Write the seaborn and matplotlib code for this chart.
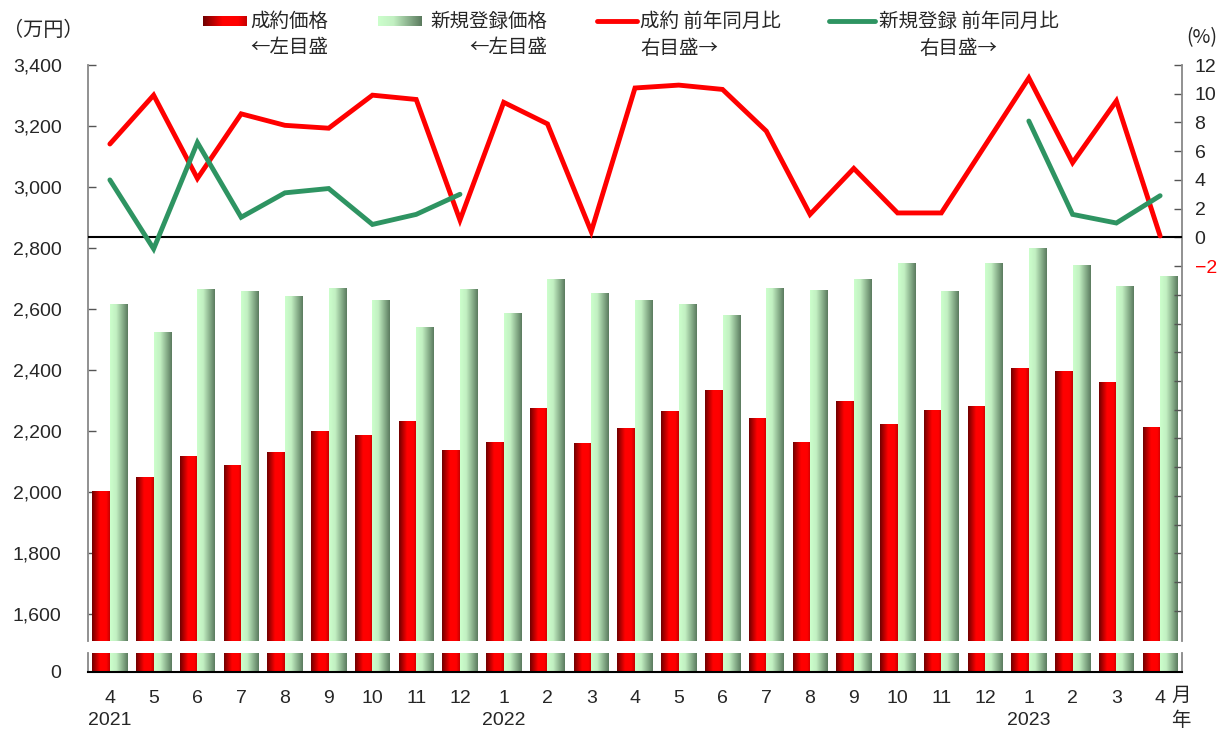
import numpy as np
import pandas as pd
import matplotlib.pyplot as plt
import seaborn as sns
from matplotlib.colors import LinearSegmentedColormap
from matplotlib.lines import Line2D

# データ（2021年4月〜2023年4月）
months = ['4', '5', '6', '7', '8', '9', '10', '11', '12', '1', '2', '3',
          '4', '5', '6', '7', '8', '9', '10', '11', '12', '1', '2', '3', '4']
year_labels = {0: '2021', 9: '2022', 21: '2023'}

seiyaku_price = [2003, 2049, 2118, 2088, 2131, 2200, 2184, 2233, 2137, 2164, 2275, 2160,
                 2209, 2265, 2334, 2240, 2164, 2298, 2220, 2269, 2282, 2406, 2396, 2360, 2213]
shinki_price = [2615, 2524, 2665, 2658, 2642, 2668, 2629, 2540, 2665, 2586, 2697, 2652,
                2629, 2615, 2579, 2668, 2661, 2697, 2750, 2658, 2750, 2799, 2743, 2674, 2707]
seiyaku_yoy = [6.5, 9.9, 4.1, 8.6, 7.8, 7.6, 9.9, 9.6, 1.2, 9.4, 7.9, 0.4,
               10.4, 10.6, 10.3, 7.4, 1.6, 4.8, 1.7, 1.7, 6.4, 11.1, 5.2, 9.5, 0.1]
shinki_yoy = [4.0, -0.8, 6.6, 1.4, 3.1, 3.4, 0.9, 1.6, 3.0] + [np.nan] * 12 + [8.1, 1.6, 1.0, 2.9]

left_ticks = [1600, 1800, 2000, 2200, 2400, 2600, 2800, 3000, 3200, 3400]
right_ticks = list(range(-26, 13, 2))

n = len(months)
cats = [f'{i:02d}' for i in range(n)]
df = pd.DataFrame({
    'cat': cats * 2,
    'series': ['成約価格'] * n + ['新規登録価格'] * n,
    'price': seiyaku_price + shinki_price,
})

sns.set_style('white')
plt.rcParams['font.family'] = ['Liberation Sans', 'Noto Sans CJK JP', 'DejaVu Sans']
jp = ['Noto Sans CJK JP', 'DejaVu Sans']

W, H = 1225, 729
fig = plt.figure(figsize=(W / 100, H / 100), dpi=100)

def fx(px):
    return px / W

def fy(py):
    return 1 - py / H

ax_top = fig.add_axes([fx(88), fy(641), fx(1182) - fx(88), fy(65) - fy(641)])
ax_bot = fig.add_axes([fx(88), fy(672), fx(1182) - fx(88), fy(653) - fy(672)])

red_cmap = LinearSegmentedColormap.from_list(
    'red_grad', [(0, '#6e0000'), (0.45, '#ff0000'), (0.8, '#ff0000'), (1, '#c40000')])
green_cmap = LinearSegmentedColormap.from_list(
    'green_grad', [(0, '#ccffcc'), (0.35, '#c2f0c2'), (1, '#5a7a5e')])
grad = np.linspace(0, 1, 256).reshape(1, -1)

limits = {ax_top: (1512, 3400), ax_bot: (0, 60)}
for a in (ax_top, ax_bot):
    sns.barplot(data=df, x='cat', y='price', hue='series', order=cats,
                palette=['red', '#ccffcc'], saturation=1, width=0.8,
                errorbar=None, legend=False, linewidth=0, ax=a)
    lo, hi = limits[a]
    for cont, cmap in zip(a.containers, [red_cmap, green_cmap]):
        for bar in cont:
            x0, y0 = bar.get_xy()
            w, h = bar.get_width(), bar.get_height()
            # 棒と同じ位置にグラデーションを重ねる（表示範囲内に収める）
            a.imshow(grad, cmap=cmap,
                     extent=[x0, x0 + w, max(y0, lo - 10), min(y0 + h, hi + 10)],
                     aspect='auto', origin='lower', zorder=2,
                     interpolation='bilinear')
            bar.set_facecolor('none')
    a.set_xlim(-0.5, n - 0.5)
    a.set_ylim(lo, hi)
    a.set_xlabel('')
    a.set_ylabel('')

# 左目盛
ax_top.set_yticks(left_ticks)
ax_top.set_yticklabels([f'{v:,}' for v in left_ticks])
ax_top.set_xticks([])
ax_bot.set_yticks([0])
ax_bot.set_yticklabels(['0'])
for a in (ax_top, ax_bot):
    a.tick_params(axis='y', direction='in', length=6, width=1, color='#555555',
                  labelsize=14, pad=19)

# x軸
labels = [f'{m}\n{year_labels[i]}' if i in year_labels else m for i, m in enumerate(months)]
ax_bot.set_xticks(range(n))
ax_bot.set_xticklabels(labels)
ax_bot.set_xticks(np.arange(-0.5, n, 1), minor=True)
ax_bot.tick_params(axis='x', which='major', length=0, labelsize=14, pad=13)
ax_bot.tick_params(axis='x', which='minor', direction='in', length=6, width=1, color='#333333')
for t in ax_bot.get_xticklabels():
    t.set_linespacing(1.35)

# 枠線
for a in (ax_top, ax_bot):
    a.spines['top'].set_visible(False)
    a.spines['left'].set_color('#888888')
    a.spines['right'].set_color('#888888')
    a.spines['left'].set_linewidth(1.3)
    a.spines['right'].set_linewidth(1.3)
ax_top.spines['bottom'].set_visible(False)
ax_top.spines['right'].set_visible(False)
ax_bot.spines['bottom'].set_color('black')
ax_bot.spines['bottom'].set_linewidth(1.5)

# 右目盛（前年同月比）
ax2 = ax_top.twinx()
x = np.arange(n)
ax2.plot(x, seiyaku_yoy, color='#ff0000', lw=3.5, solid_joinstyle='miter', zorder=4)
ax2.plot(x, shinki_yoy, color='#2e9462', lw=3.5, solid_joinstyle='miter', zorder=4)
ax2.axhline(0, color='black', lw=1.5, zorder=3)
ax2.set_ylim(-28.1, 12)
ax2.set_xlim(-0.5, n - 0.5)
ax2.set_yticks(right_ticks)
ax2.set_yticklabels([('−2' if v == -2 else str(v)) if v >= -2 else '' for v in right_ticks])
ax2.tick_params(axis='y', direction='in', length=6, width=1, color='#555555',
                labelsize=14, pad=9)
for t, v in zip(ax2.get_yticklabels(), right_ticks):
    if v == -2:
        t.set_color('red')
for s in ('top', 'bottom', 'left'):
    ax2.spines[s].set_visible(False)
ax2.spines['right'].set_color('#888888')
ax2.spines['right'].set_linewidth(1.3)

# 単位
fig.text(fx(3), fy(31), '（万円）', fontsize=14.5, family=jp, va='center', ha='left')
fig.text(fx(1186), fy(38), '(%)', fontsize=14, family=jp, va='center', ha='left')
fig.text(fx(1181), fy(695), '月', fontsize=14, family=jp, va='center', ha='center')
fig.text(fx(1181), fy(720), '年', fontsize=14, family=jp, va='center', ha='center')

# 凡例
for (x0, x1), cmap in zip([(203, 247), (378, 422)], [red_cmap, green_cmap]):
    sw = fig.add_axes([fx(x0), fy(26), fx(x1) - fx(x0), fy(16) - fy(26)])
    sw.imshow(grad, cmap=cmap, aspect='auto', interpolation='bilinear')
    sw.axis('off')
fig.add_artist(Line2D([fx(597), fx(637)], [fy(21), fy(21)], color='#ff0000', lw=3.5))
fig.add_artist(Line2D([fx(829), fx(875)], [fy(21), fy(21)], color='#2e9462', lw=3.5))

legend_texts = [
    (250, 21, '成約価格', 'left'), (250, 48, '←左目盛', 'left'),
    (547, 21, '新規登録価格', 'right'), (547, 48, '←左目盛', 'right'),
    (640, 21, '成約 前年同月比', 'left'), (640, 48, '右目盛→', 'left'),
    (879, 21, '新規登録 前年同月比', 'left'), (919, 48, '右目盛→', 'left'),
]
for px, py, s, ha in legend_texts:
    fig.text(fx(px), fy(py), s, fontsize=14, family=jp, va='center', ha=ha)

fig.savefig('out.png', dpi=100)
